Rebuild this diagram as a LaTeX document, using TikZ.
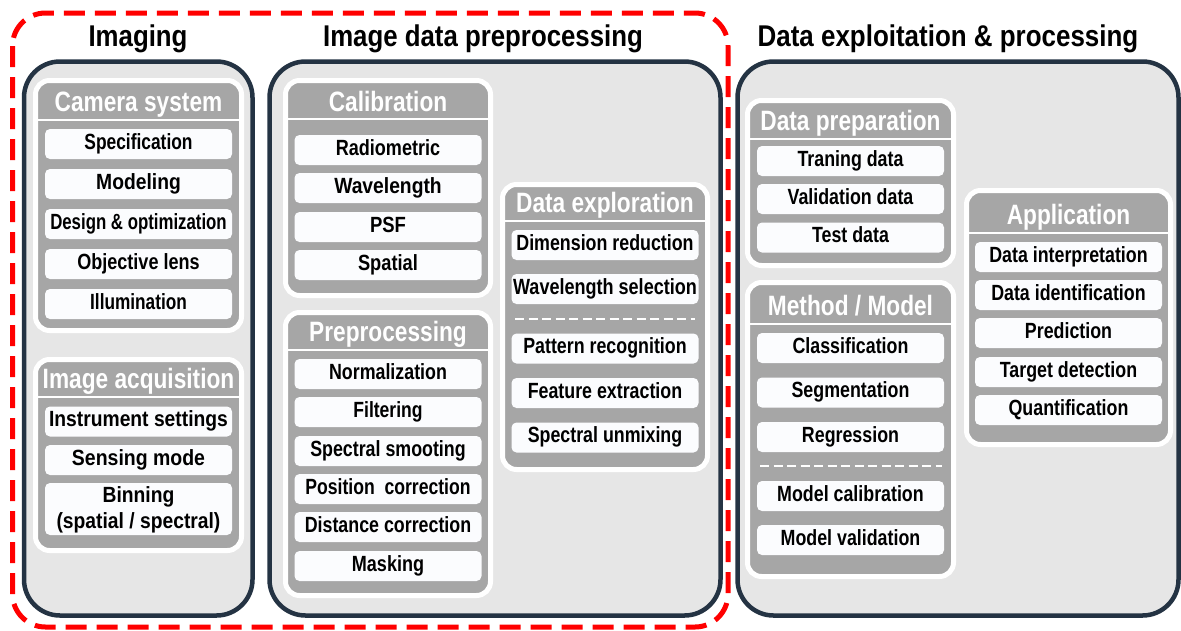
\documentclass[tikz,border=0pt]{standalone}
\usepackage{fontspec}
\usepackage{graphicx}
\setmainfont{Liberation Sans}

\definecolor{frameline}{HTML}{243343}
\definecolor{framefill}{HTML}{E6E6E6}
\definecolor{groupgray}{HTML}{A6A6A6}
\definecolor{cellfill}{HTML}{FBFCFE}
\definecolor{framered}{HTML}{FF0000}

% horizontal squeeze of a piece of text
\newcommand\sx[2]{\scalebox{#1}[1]{#2}}
% one white entry box: [squeeze]{name}{x}{y}{text}
\newcommand\cell[5][0.81]{\node[cellbox] (#2) at (#3,#4) {\sx{#1}{#5}};}

\tikzset{
  outerframe/.style={draw=frameline, fill=framefill, line width=4.5pt, rounded corners=36pt},
  groupbox/.style={draw=white, fill=groupgray, line width=5pt, rounded corners=14pt},
  groupsep/.style={draw=white, line width=2.5pt},
  groupdash/.style={draw=white, line width=2pt, dash pattern=on 9pt off 4.5pt},
  cellbox/.style={fill=cellfill, rounded corners=5pt, minimum width=187pt, minimum height=30pt,
    inner sep=0pt, font=\fontsize{22}{26}\selectfont\bfseries, text height=16pt, text depth=6pt},
  celltext/.style={anchor=base, inner sep=0pt, font=\fontsize{22}{26}\selectfont\bfseries},
  grouphead/.style={anchor=base, text=white, inner sep=0pt, font=\fontsize{28}{30}\selectfont\bfseries},
  paneltitle/.style={anchor=base, inner sep=0pt, font=\fontsize{30}{32}\selectfont\bfseries},
  reddash/.style={draw=framered, line width=5pt, dash pattern=on 21pt off 10pt, rounded corners=33pt},
}

\begin{document}
\begin{tikzpicture}[x=1pt, y=-1pt]
\useasboundingbox (0,0) rectangle (1181,630);

% ---- panel titles ----
\node[paneltitle] (ttlimaging) at (138,46) {\sx{0.86}{Imaging}};
\node[paneltitle] (ttlprep) at (483,46) {\sx{0.86}{Image data preprocessing}};
\node[paneltitle] (ttlexploit) at (948,46) {\sx{0.865}{Data exploitation \& processing}};

% ---- panels ----
\path[outerframe] (24,61.5) rectangle (252.5,615.5);
\path[outerframe] (269.5,61.5) rectangle (720.5,615.5);
\path[outerframe] (737.5,61.5) rectangle (1178.5,615.5);

% ---- Imaging: camera system ----
\path[groupbox] (35.5,80.5) rectangle (241.5,330.5);
\draw[groupsep] (38,120) -- (239,120);
\node[grouphead] (camhead) at (138.5,111) {\sx{0.81}{Camera system}};
\cell[0.79]{spec}{138.5}{144}{Specification}
\cell[0.876]{model}{138.5}{184}{Modeling}
\cell[0.764]{design}{138.5}{224}{Design \& optimization}
\cell[0.82]{lens}{138.5}{264}{Objective lens}
\cell[0.783]{illum}{138.5}{304}{Illumination}

% ---- Imaging: image acquisition ----
\path[groupbox] (35.5,359.5) rectangle (241.5,550.5);
\draw[groupsep] (38,397) -- (239,397);
\node[grouphead] (acqhead) at (138.5,388) {\sx{0.81}{Image acquisition}};
\cell[0.876]{instr}{138.5}{421.5}{Instrument settings}
\cell[0.885]{sensing}{138.5}{460}{Sensing mode}
\node[cellbox, minimum height=52pt] (binning) at (138.5,509) {};
\node[celltext] (binningA) at (138.5,502) {\sx{0.876}{Binning}};
\node[celltext] (binningB) at (138.5,528) {\sx{0.876}{(spatial / spectral)}};

% ---- Preprocessing: calibration ----
\path[groupbox] (285.5,80.5) rectangle (490.5,295.5);
\draw[groupsep] (288,119) -- (488,119);
\node[grouphead] (calhead) at (388,111) {\sx{0.81}{Calibration}};
\cell[0.82]{radio}{388}{150}{Radiometric}
\cell[0.876]{wave}{388}{188}{Wavelength}
\cell[0.839]{psf}{388}{227}{PSF}
\cell[0.83]{spatial}{388}{265}{Spatial}

% ---- Preprocessing: preprocessing ----
\path[groupbox] (285.5,312.5) rectangle (490.5,595.5);
\draw[groupsep] (288,350) -- (488,350);
\node[grouphead] (pphead) at (388,341) {\sx{0.81}{Preprocessing}};
\cell{norm}{388}{374}{Normalization}
\cell[0.797]{filt}{388}{412}{Filtering}
\cell{smooth}{388}{451}{Spectral smooting}
\cell[0.80]{poscor}{388}{489}{Position~ correction}
\cell{distcor}{388}{527}{Distance correction}
\cell[0.82]{mask}{388}{566}{Masking}

% ---- Preprocessing: data exploration ----
\path[groupbox] (502.5,184.5) rectangle (707.5,469.5);
\draw[groupsep] (505,221) -- (705,221);
\node[grouphead] (explhead) at (605,212) {\sx{0.81}{Data exploration}};
\cell{dimred}{605}{245}{Dimension reduction}
\cell[0.82]{wavesel}{605}{289}{Wavelength selection}
\coordinate (expldashL) at (515,319);
\coordinate (expldashR) at (695,319);
\draw[groupdash] (expldashL) -- (expldashR);
\cell{pattern}{605}{348.5}{Pattern recognition}
\cell{feature}{605}{393}{Feature extraction}
\cell{unmix}{605}{437.5}{Spectral unmixing}

% ---- Exploitation: data preparation ----
\path[groupbox] (747.5,100.5) rectangle (953.5,265.5);
\draw[groupsep] (750,139) -- (951,139);
\node[grouphead] (dphead) at (850.5,130) {\sx{0.81}{Data preparation}};
\cell{train}{850.5}{161}{Traning data}
\cell{valid}{850.5}{199}{Validation data}
\cell{test}{850.5}{237.5}{Test data}

% ---- Exploitation: method / model ----
\path[groupbox] (747.5,282.5) rectangle (953.5,576.5);
\draw[groupsep] (750,324) -- (951,324);
\node[grouphead] (mmhead) at (850.5,315) {\sx{0.81}{Method / Model}};
\cell{classif}{850.5}{348}{Classification}
\cell{segment}{850.5}{392.5}{Segmentation}
\cell{regress}{850.5}{437}{Regression}
\coordinate (mmdashL) at (760,466);
\coordinate (mmdashR) at (942,466);
\draw[groupdash] (mmdashL) -- (mmdashR);
\cell{modcal}{850.5}{496}{Model calibration}
\cell{modval}{850.5}{540}{Model validation}

% ---- Exploitation: application ----
\path[groupbox] (966.5,190.5) rectangle (1170.5,444.5);
\draw[groupsep] (969,233) -- (1168,233);
\node[grouphead] (apphead) at (1068.5,224) {\sx{0.81}{Application}};
\cell{interp}{1068.5}{257}{Data interpretation}
\cell{ident}{1068.5}{295}{Data identification}
\cell{predict}{1068.5}{333}{Prediction}
\cell{target}{1068.5}{372}{Target detection}
\cell{quant}{1068.5}{410}{Quantification}

% ---- dashed red outline around imaging and preprocessing ----
\path[reddash] (12.5,13) rectangle (728,627);
\end{tikzpicture}
\end{document}
